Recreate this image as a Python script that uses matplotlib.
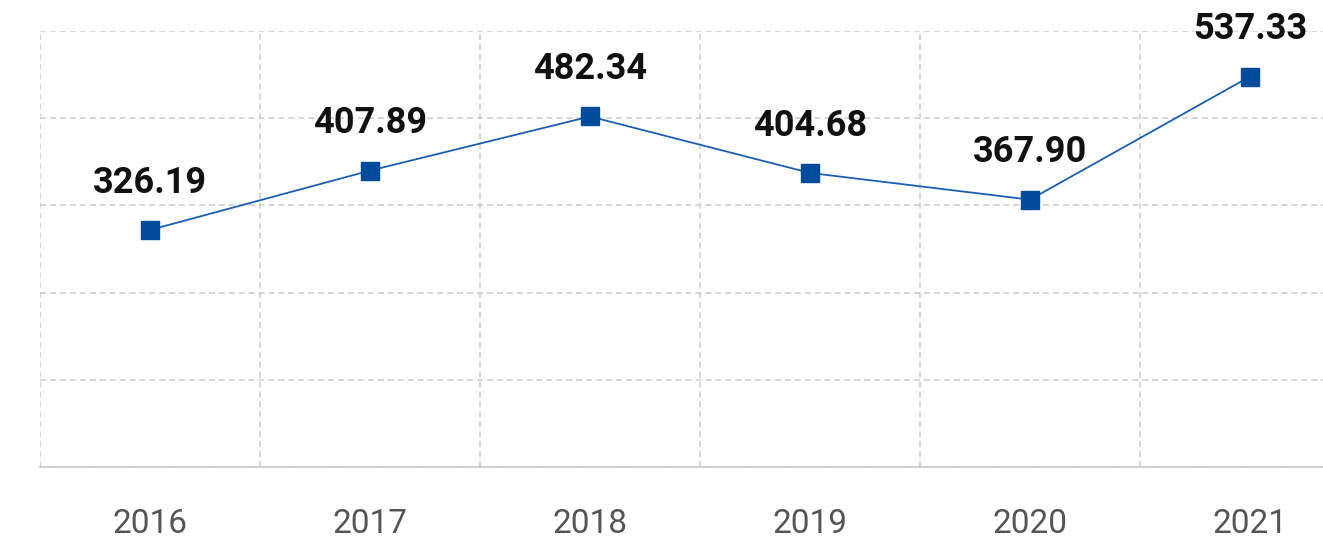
import matplotlib

matplotlib.use("Agg")
import matplotlib.pyplot as plt
import numpy as np

years = ["2016", "2017", "2018", "2019", "2020", "2021"]
values = [326.19, 407.89, 482.34, 404.68, 367.90, 537.33]
y_ticks = [0, 120, 240, 360, 480, 600]

plt.rcParams["font.family"] = ["Roboto", "DejaVu Sans"]

fig = plt.figure(figsize=(13.23, 5.40), dpi=100)
ax = fig.add_axes([40 / 1323, 73 / 540, 1320 / 1323, 436 / 540])

x = np.arange(len(years))
ax.plot(x, values, color="#1c5fae", linewidth=1.3, zorder=3)
ax.plot(x, values, linestyle="none", marker="s", markersize=13.5,
        color="#004c9c", zorder=4)

for xi, v in zip(x, values):
    ax.annotate(f"{v:.2f}", xy=(xi, v), xytext=(0, 34), textcoords="offset points",
                ha="center", va="center", fontsize=26, fontweight="bold",
                color="#111111")

ax.set_xlim(-0.5, len(years) - 0.5)
ax.set_ylim(0, 600)
ax.set_yticks(y_ticks)
ax.set_xticks(x, years)
ax.set_xticks(np.arange(len(years) + 1) - 0.5, minor=True)

grid_kw = dict(color="#cccccc", linestyle=(0, (4, 2.5)), linewidth=1.1)
ax.grid(axis="y", which="major", **grid_kw)
ax.grid(axis="x", which="minor", **grid_kw)
ax.grid(axis="x", which="major", visible=False)

for side in ("top", "right", "left"):
    ax.spines[side].set_visible(False)
ax.spines["bottom"].set_color("#c8c8c8")
ax.spines["bottom"].set_linewidth(1.2)

ax.tick_params(axis="y", left=False, labelleft=False)
ax.tick_params(axis="x", which="both", bottom=False, labelsize=24,
               labelcolor="#555555", pad=26)

fig.savefig("out.png", dpi=100, facecolor="white")
